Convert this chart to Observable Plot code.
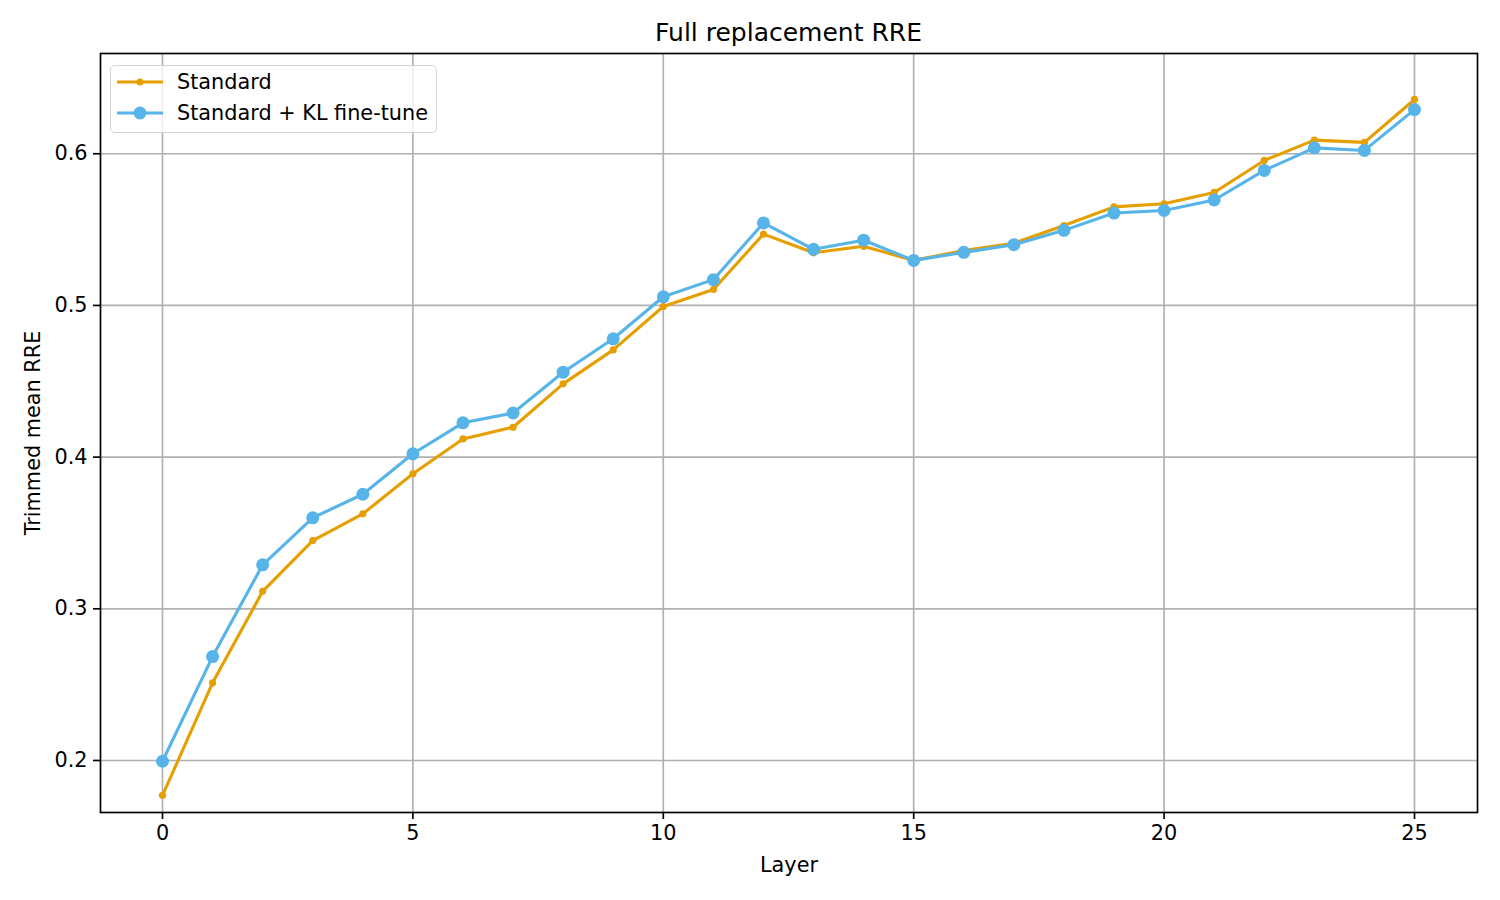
<!DOCTYPE html>
<html>
<head>
<meta charset="utf-8">
<script src="https://cdn.jsdelivr.net/npm/d3@7"></script>
<script src="https://cdn.jsdelivr.net/npm/@observablehq/plot@0.6"></script>
<style>
  html, body { margin: 0; padding: 0; background: #fff; }
  body { width: 1500px; height: 900px; position: relative; font-family: "DejaVu Sans", sans-serif; overflow: hidden; }
  #title { box-sizing: border-box; height: 45px; padding: 20px 23px 0 100px; text-align: center; font-size: 25px; line-height: 25px; color: #000; }
  #legend { position: absolute; left: 110px; top: 65px; width: 327px; height: 68px; border: 1.5px solid #d4d4d4; border-radius: 5px; background: rgba(255,255,255,0.8); box-sizing: border-box; }
  .row { position: absolute; left: 0; height: 30px; display: flex; align-items: center; font-size: 20.8px; color: #000; white-space: nowrap; }
  .row svg { margin-left: 6px; margin-right: 14px; }
</style>
</head>
<body>
<div id="title">Full replacement RRE</div>
<div id="chart"></div>
<div id="legend"></div>
<script>
const layers = [0,1,2,3,4,5,6,7,8,9,10,11,12,13,14,15,16,17,18,19,20,21,22,23,24,25];
const standard = [0.177, 0.2512, 0.3115, 0.345, 0.3626, 0.389, 0.412, 0.4197, 0.4483, 0.4707, 0.4993, 0.5105, 0.547, 0.5347, 0.539, 0.5297, 0.5362, 0.541, 0.5527, 0.565, 0.567, 0.5745, 0.5956, 0.609, 0.6075, 0.6358];
const klFinetune = [0.1995, 0.2685, 0.329, 0.360, 0.3755, 0.4022, 0.4226, 0.4291, 0.456, 0.478, 0.5057, 0.517, 0.5544, 0.537, 0.543, 0.5297, 0.535, 0.540, 0.5495, 0.5609, 0.5626, 0.5695, 0.589, 0.6039, 0.6022, 0.6291];
const xTicks = [0, 5, 10, 15, 20, 25];
const yTicks = [0.2, 0.3, 0.4, 0.5, 0.6];
const seriesNames = ["Standard", "Standard + KL fine-tune"];
const colors = ["#E69F00", "#56B4E9"];

const stdData = layers.map((l, i) => ({layer: l, value: standard[i]}));
const klData = layers.map((l, i) => ({layer: l, value: klFinetune[i]}));

const chart = Plot.plot({
  width: 1500,
  height: 855,
  marginLeft: 100,
  marginRight: 23,
  marginTop: 8,
  marginBottom: 88,
  style: {fontFamily: "DejaVu Sans, sans-serif", fontSize: "20.8px", color: "#000", background: "#fff", overflow: "visible"},
  x: {domain: [-1.238, 26.258]},
  y: {domain: [0.1657, 0.6661]},
  marks: [
    Plot.gridX(xTicks, {stroke: "#b0b0b0", strokeOpacity: 1, strokeWidth: 1.67}),
    Plot.gridY(yTicks, {stroke: "#b0b0b0", strokeOpacity: 1, strokeWidth: 1.67}),
    Plot.line(stdData, {x: "layer", y: "value", stroke: colors[0], strokeWidth: 3.1}),
    Plot.dot(stdData, {x: "layer", y: "value", fill: colors[0], r: 3.6}),
    Plot.line(klData, {x: "layer", y: "value", stroke: colors[1], strokeWidth: 3.1}),
    Plot.dot(klData, {x: "layer", y: "value", fill: colors[1], r: 6.5}),
    Plot.frame({stroke: "#000", strokeWidth: 1.67}),
    Plot.axisX(xTicks, {tickSize: 7, tickPadding: 6, fontSize: 20.8, label: null, strokeWidth: 1.67}),
    Plot.axisY(yTicks, {tickSize: 7, tickPadding: 6, fontSize: 20.8, label: null, tickFormat: d3.format(".1f"), strokeWidth: 1.67}),
    Plot.text(["Layer"], {frameAnchor: "bottom", dy: 53, lineAnchor: "middle", fontSize: 20.8, text: d => d}),
    Plot.text(["Trimmed mean RRE"], {frameAnchor: "left", dx: -67, rotate: -90, lineAnchor: "middle", textAnchor: "middle", fontSize: 20.8, text: d => d})
  ]
});
document.getElementById("chart").appendChild(chart);

const legend = document.getElementById("legend");
const rowTops = [1, 32];
const radii = [3.6, 6.5];
seriesNames.forEach((name, i) => {
  const row = document.createElement("div");
  row.className = "row";
  row.style.top = rowTops[i] + "px";
  row.innerHTML = `<svg width="46" height="20"><line x1="0" y1="10" x2="46" y2="10" stroke="${colors[i]}" stroke-width="3.1"/><circle cx="23" cy="10" r="${radii[i]}" fill="${colors[i]}"/></svg><span>${name}</span>`;
  legend.appendChild(row);
});
</script>
</body>
</html>
